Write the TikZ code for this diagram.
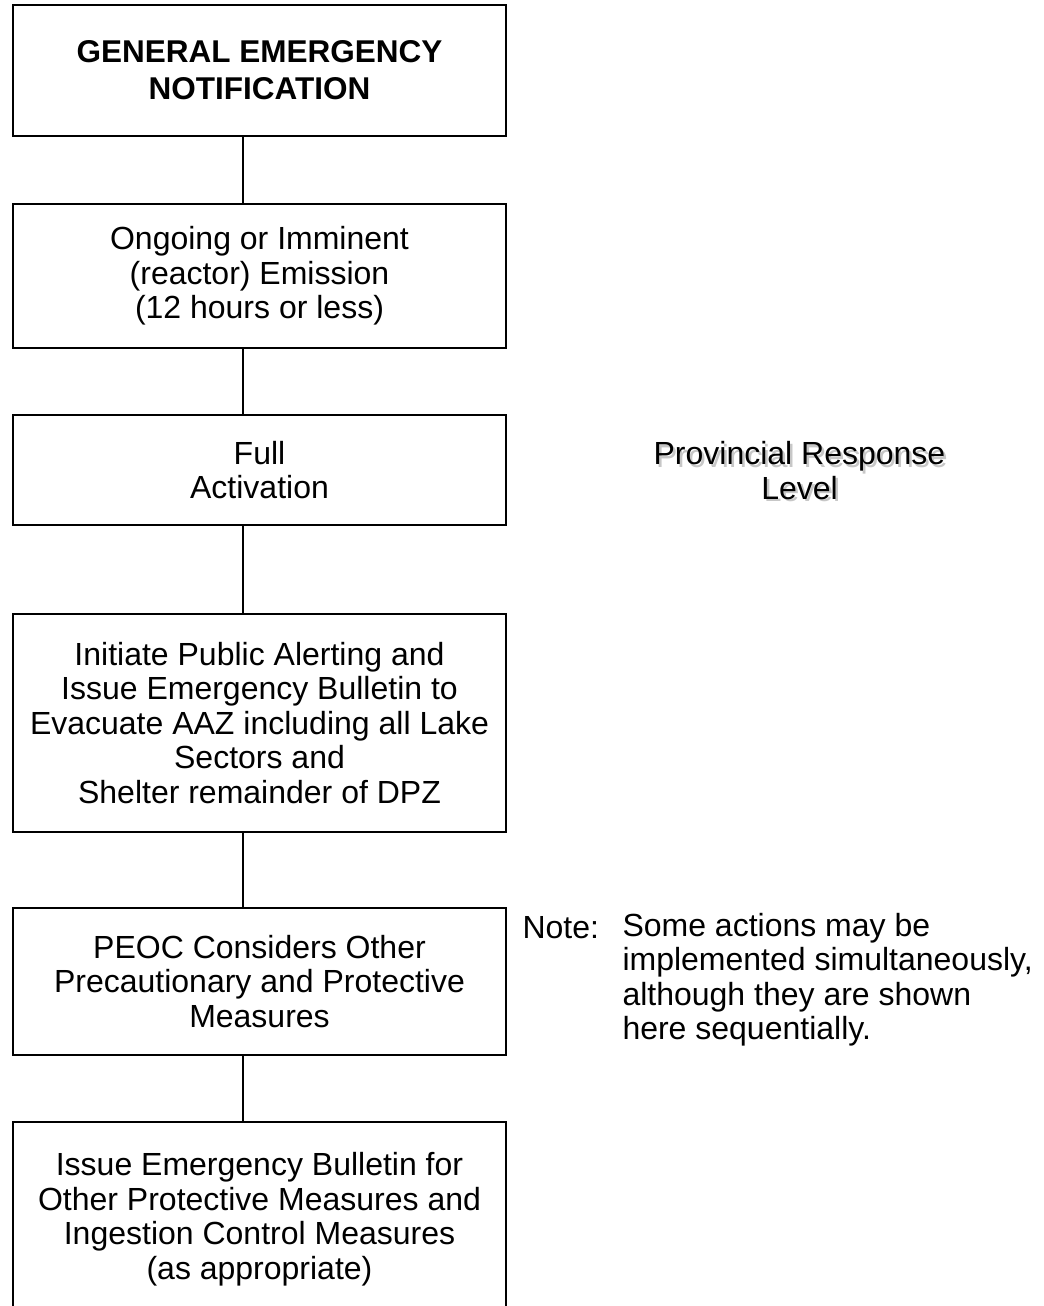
\documentclass[tikz,border=0pt]{standalone}
\usepackage{fontspec}
\setmainfont{Liberation Sans}
\begin{document}
\begin{tikzpicture}[x=0.4pt,y=-0.4pt,
  box/.style={draw,line width=1pt,minimum width=197.2pt,inner sep=0pt,align=center,font=\fontsize{12.8}{13.8}\selectfont},
  link/.style={line width=0.9pt},
  plain/.style={inner sep=0pt,font=\fontsize{12.8}{13.8}\selectfont}]
\useasboundingbox (0,0) rectangle (1044,1306);
\coordinate (cx) at (243,0);
\node[box,minimum height=52.4pt,font=\bfseries\fontsize{12.6}{14.8}\selectfont] (b1) at (259.5,70.5) {GENERAL EMERGENCY\\NOTIFICATION};
\node[box,minimum height=57.6pt] (b2) at (259.5,276) {Ongoing or Imminent\\(reactor) Emission\\(12 hours or less)};
\node[box,minimum height=44pt] (b3) at (259.5,470) {Full\\Activation};
\node[box,minimum height=87.2pt] (b4) at (259.5,723) {Initiate Public Alerting and\\Issue Emergency Bulletin to\\Evacuate AAZ including all Lake\\Sectors and\\Shelter remainder of DPZ};
\node[box,minimum height=58.8pt] (b5) at (259.5,981.5) {PEOC Considers Other\\Precautionary and Protective\\Measures};
\node[box,minimum height=77.6pt] (b6) at (259.5,1219) {Issue Emergency Bulletin for\\Other Protective Measures and\\Ingestion Control Measures\\(as appropriate)};
\draw[link] (b1.south -| cx) -- (b2.north -| cx);
\draw[link] (b2.south -| cx) -- (b3.north -| cx);
\draw[link] (b3.south -| cx) -- (b4.north -| cx);
\draw[link] (b4.south -| cx) -- (b5.north -| cx);
\draw[link] (b5.south -| cx) -- (b6.north -| cx);
\node[plain,align=center,text=black!22] (provshadow) at (802,473) {Provincial Response\\Level};
\node[plain,align=center] (prov) at (799.5,470.5) {Provincial Response\\Level};
\node[plain,anchor=west] (notelbl) at (522,928) {Note:};
\node[plain,align=left,anchor=west] (notetxt) at (622,979.5) {Some actions may be\\implemented simultaneously,\\although they are shown\\here sequentially.};
\end{tikzpicture}
\end{document}
